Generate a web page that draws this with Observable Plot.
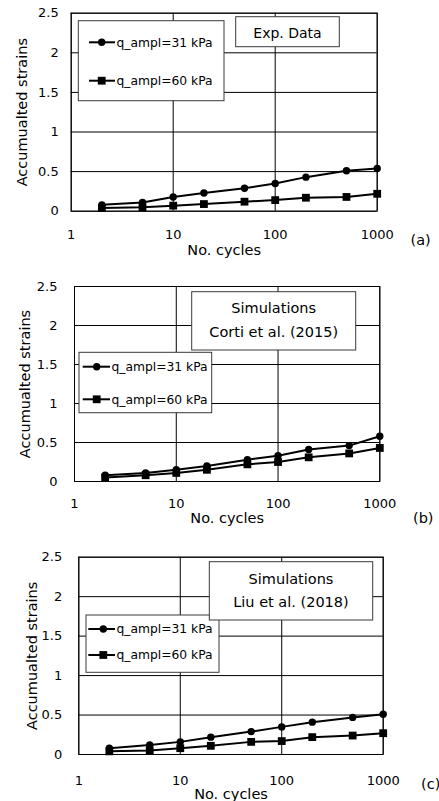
<!DOCTYPE html>
<html>
<head>
<meta charset="utf-8">
<script src="https://cdn.jsdelivr.net/npm/d3@7"></script>
<script src="https://cdn.jsdelivr.net/npm/@observablehq/plot@0.6"></script>
<style>
  html, body { margin: 0; padding: 0; background: #fff; }
  #chart { width: 439px; height: 801px; overflow: hidden; }
  #chart svg { display: block; }
</style>
</head>
<body>
<div id="chart"></div>
<script>
// ---- data ----
const cycles = [2, 5, 10, 20, 50, 100, 200, 500, 1000];
const seriesNames = ["q_ampl=31 kPa", "q_ampl=60 kPa"];
const xTicks = [1, 10, 100, 1000];
const yTicks = [0, 0.5, 1, 1.5, 2, 2.5];

// (a) Experimental data
const expQ31 = [0.08, 0.11, 0.18, 0.23, 0.29, 0.35, 0.43, 0.51, 0.54];
const expQ60 = [0.04, 0.05, 0.07, 0.09, 0.12, 0.14, 0.17, 0.18, 0.22];
// (b) Simulations Corti et al. (2015)
const cortiQ31 = [0.08, 0.11, 0.15, 0.20, 0.28, 0.33, 0.41, 0.46, 0.58];
const cortiQ60 = [0.05, 0.08, 0.11, 0.15, 0.22, 0.25, 0.31, 0.36, 0.43];
// (c) Simulations Liu et al. (2018)
const liuQ31 = [0.08, 0.12, 0.16, 0.22, 0.29, 0.35, 0.41, 0.47, 0.51];
const liuQ60 = [0.04, 0.05, 0.08, 0.11, 0.16, 0.17, 0.22, 0.24, 0.27];

const xLabel = "No. cycles";
const yLabel = "Accumualted strains";

const FONT = "DejaVu Sans";

function toRows(q31, q60) {
  const rows = [];
  cycles.forEach((c, i) => rows.push({x: c, y: q31[i], s: seriesNames[0]}));
  cycles.forEach((c, i) => rows.push({x: c, y: q60[i], s: seriesNames[1]}));
  return rows;
}

function panel(cfg) {
  const rows = toRows(cfg.q31, cfg.q60);
  const svg = Plot.plot({
    width: 439,
    height: cfg.height,
    marginTop: cfg.mt, marginBottom: cfg.mb, marginLeft: cfg.ml, marginRight: cfg.mr,
    style: {fontFamily: FONT, background: "white", color: "black", overflow: "visible"},
    x: {type: "log", domain: [1, 1000]},
    y: {domain: [0, 2.5]},
    marks: [
      Plot.gridX(xTicks, {stroke: "#000", strokeOpacity: 1, strokeWidth: 1}),
      Plot.gridY(yTicks, {stroke: "#000", strokeOpacity: 1, strokeWidth: 1}),
      Plot.frame({stroke: "#000", strokeWidth: 1}),
      Plot.axisX(xTicks, {tickSize: 0, tickPadding: cfg.xPad, tickFormat: d => String(d), label: null, fontSize: 13, fill: "#000"}),
      Plot.axisY(yTicks, {tickSize: 0, tickPadding: cfg.yPad, tickFormat: d => String(d), label: null, fontSize: 13, fill: "#000"}),
      Plot.text([xLabel], {frameAnchor: "bottom", lineAnchor: "top", textAnchor: "middle", dy: cfg.xTitleDy, fontSize: 14.5, fill: "#000"}),
      Plot.text([yLabel], {frameAnchor: "left", rotate: -90, textAnchor: "middle", lineAnchor: "middle", dx: cfg.yTitleDx, fontSize: 14.5, fill: "#000"}),
      Plot.line(rows, {x: "x", y: "y", z: "s", stroke: "#000", strokeWidth: 2}),
      Plot.dot(rows.filter(d => d.s === seriesNames[0]), {x: "x", y: "y", symbol: "circle", r: 3.7, fill: "#000", stroke: null}),
      Plot.dot(rows.filter(d => d.s === seriesNames[1]), {x: "x", y: "y", symbol: "square", r: 4.4, fill: "#000", stroke: null})
    ]
  });

  const g = d3.select(svg).append("g").attr("font-family", FONT);

  // legend box
  const L = cfg.legend;
  g.append("rect").attr("x", L.x0).attr("y", L.y0).attr("width", L.x1 - L.x0).attr("height", L.y1 - L.y0)
    .attr("fill", "white").attr("stroke", "#3a3a3a").attr("stroke-width", 1);
  L.rows.forEach((ry, i) => {
    g.append("line").attr("x1", L.lx0).attr("x2", L.lx1).attr("y1", ry).attr("y2", ry)
      .attr("stroke", "#000").attr("stroke-width", 2);
    if (i === 0) {
      g.append("circle").attr("cx", L.mx).attr("cy", ry).attr("r", 3.7).attr("fill", "#000");
    } else {
      g.append("rect").attr("x", L.mx - 3.9).attr("y", ry - 3.9).attr("width", 7.8).attr("height", 7.8).attr("fill", "#000");
    }
    g.append("text").attr("x", L.tx).attr("y", ry).attr("dy", "0.35em").attr("text-anchor", "start")
      .attr("font-size", 12.3).attr("fill", "#000").text(seriesNames[i]);
  });

  // annotation box
  const A = cfg.note;
  g.append("rect").attr("x", A.x0).attr("y", A.y0).attr("width", A.x1 - A.x0).attr("height", A.y1 - A.y0)
    .attr("fill", "white").attr("stroke", "#3a3a3a").attr("stroke-width", 1);
  A.lines.forEach((t, i) => {
    g.append("text").attr("x", (A.x0 + A.x1) / 2).attr("y", A.base[i]).attr("text-anchor", "middle")
      .attr("font-size", A.size).attr("fill", "#000").text(t);
  });

  // panel letter
  g.append("text").attr("x", cfg.letter.x).attr("y", cfg.letter.y).attr("text-anchor", "start")
    .attr("font-size", 14.5).attr("fill", "#000").text(cfg.letter.t);

  return svg;
}

const chart = document.getElementById("chart");

chart.appendChild(panel({
  q31: expQ31, q60: expQ60,
  height: 265, mt: 12.7, mb: 54.3, ml: 70.7, mr: 62.3,
  xPad: 19, yPad: 12.5, xTitleDy: 34, yTitleDx: -49,
  legend: {x0: 78.3, x1: 224, y0: 20.7, y1: 100.7, rows: [42.3, 80.7], lx0: 89, lx1: 115, mx: 101.7, tx: 116.5},
  note: {x0: 235.7, x1: 339.3, y0: 16.7, y1: 46.7, lines: ["Exp. Data"], base: [37.5], size: 14},
  letter: {x: 410.5, y: 245, t: "(a)"}
}));

chart.appendChild(panel({
  q31: cortiQ31, q60: cortiQ60,
  height: 265, mt: 21, mb: 49, ml: 74, mr: 59.7,
  xPad: 17, yPad: 17, xTitleDy: 31.5, yTitleDx: -49,
  legend: {x0: 79, x1: 211.7, y0: 87.3, y1: 147.7, rows: [101.7, 134.3], lx0: 82.7, lx1: 110, mx: 96.7, tx: 111.5},
  note: {x0: 191.7, x1: 355.7, y0: 26.7, y1: 85, lines: ["Simulations", "Corti et al. (2015)"], base: [48, 71.7], size: 14.5},
  letter: {x: 413, y: 258, t: "(b)"}
}));

chart.appendChild(panel({
  q31: liuQ31, q60: liuQ60,
  height: 271, mt: 26.7, mb: 47, ml: 78.3, mr: 56.3,
  xPad: 21, yPad: 16.6, xTitleDy: 34.5, yTitleDx: -46.6,
  legend: {x0: 86, x1: 219, y0: 85, y1: 142.3, rows: [99, 125], lx0: 88.3, lx1: 115, mx: 103.3, tx: 116.5},
  note: {x0: 209.3, x1: 372.7, y0: 31.7, y1: 90, lines: ["Simulations", "Liu et al. (2018)"], base: [54.3, 76.7], size: 14.5},
  letter: {x: 421, y: 259, t: "(c)"}
}));
</script>
</body>
</html>
